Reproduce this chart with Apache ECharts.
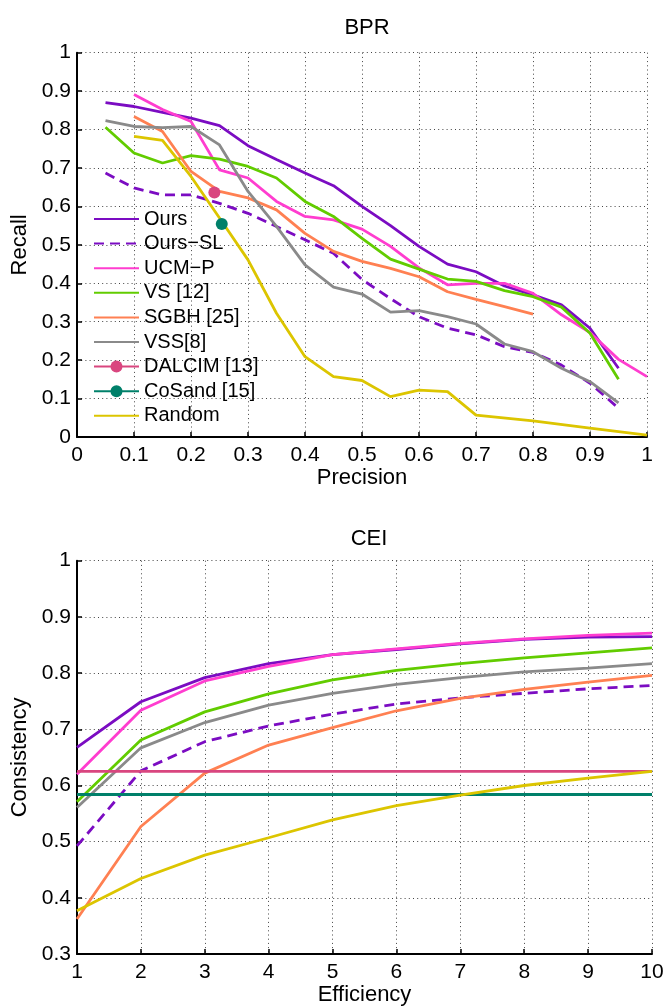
<!DOCTYPE html>
<html><head><meta charset="utf-8">
<script src="https://cdn.jsdelivr.net/npm/echarts@6/dist/echarts.min.js"></script>
<style>html,body{margin:0;padding:0;background:#fff}#c{width:667px;height:1007px}</style>
</head><body><div id="c"></div>
<script>
// ---- BPR (top) ----
const precisionA = [0.05,0.1,0.15,0.2,0.25,0.3,0.35,0.4,0.45,0.5,0.55,0.6,0.65,0.7,0.75,0.8,0.85,0.9,0.95];
const precisionB = [0.1,0.15,0.2,0.25,0.3,0.35,0.4,0.45,0.5,0.55,0.6,0.65,0.7,0.75,0.8,0.85,0.9,0.95,1.0];
const precisionC = [0.1,0.15,0.2,0.25,0.3,0.35,0.4,0.45,0.5,0.55,0.6,0.65,0.7,0.75,0.8];
const precisionR = [0.1,0.15,0.2,0.25,0.3,0.35,0.4,0.45,0.5,0.55,0.6,0.65,0.7,0.8,0.9,1.0];
const recallOurs   = [0.87,0.86,0.845,0.83,0.81,0.758,0.722,0.687,0.654,0.60,0.55,0.496,0.45,0.43,0.393,0.37,0.344,0.283,0.179];
const recallOursSL = [0.687,0.648,0.63,0.63,0.608,0.582,0.548,0.513,0.478,0.41,0.36,0.313,0.283,0.266,0.235,0.22,0.187,0.14,0.075];
const recallUCMP   = [0.891,0.852,0.821,0.695,0.674,0.613,0.574,0.565,0.541,0.496,0.44,0.396,0.40,0.40,0.374,0.318,0.272,0.202,0.157];
const recallVS     = [0.806,0.739,0.713,0.732,0.723,0.704,0.674,0.613,0.574,0.517,0.463,0.437,0.411,0.405,0.381,0.365,0.338,0.27,0.15];
const recallSGBH   = [0.834,0.795,0.691,0.639,0.622,0.591,0.53,0.483,0.457,0.439,0.417,0.378,0.358,0.339,0.32];
const recallVSS    = [0.823,0.808,0.805,0.808,0.76,0.639,0.548,0.448,0.39,0.372,0.325,0.329,0.313,0.294,0.242,0.222,0.179,0.144,0.089];
const recallRandom = [0.782,0.772,0.678,0.57,0.461,0.322,0.209,0.157,0.147,0.105,0.122,0.118,0.057,0.042,0.023,0.005];
const pointDALCIM = [0.241,0.636];
const pointCoSand = [0.254,0.554];

// ---- CEI (bottom) ----
const efficiency = [1,2,3,4,5,6,7,8,9,10];
const consOurs   = [0.668,0.749,0.792,0.817,0.833,0.842,0.852,0.86,0.864,0.865];
const consOursSL = [0.4925,0.626,0.678,0.706,0.727,0.745,0.756,0.764,0.772,0.778];
const consUCMP   = [0.62,0.734,0.786,0.812,0.833,0.843,0.853,0.861,0.867,0.871];
const consVS     = [0.571,0.681,0.731,0.763,0.788,0.805,0.817,0.827,0.836,0.845];
const consSGBH   = [0.3625,0.527,0.622,0.672,0.703,0.733,0.755,0.771,0.784,0.796];
const consVSS    = [0.561,0.667,0.712,0.743,0.764,0.78,0.792,0.802,0.809,0.817];
const consDALCIM = [0.625,0.625,0.625,0.625,0.625,0.625,0.625,0.625,0.625,0.625];
const consCoSand = [0.584,0.584,0.584,0.584,0.584,0.584,0.584,0.584,0.584,0.584];
const consRandom = [0.377,0.4346,0.476,0.507,0.539,0.564,0.583,0.6,0.613,0.625];

const names = ['Ours','Ours\u2212SL','UCM\u2212P','VS [12]','SGBH [25]','VSS[8]','DALCIM [13]','CoSand [15]','Random'];
const withMarker = {'DALCIM [13]':true, 'CoSand [15]':true};
const colors = {
  ours:'#7B0CC2', ucmp:'#FF3DCF', vs:'#62CC00', sgbh:'#FF8052', vss:'#8A8A8A',
  dalcim:'#D9467F', cosand:'#00806A', random:'#DCC500'
};

const zip = (xs, ys) => xs.map((x,i)=>[x, ys[i]]);
const FONT = 'Liberation Sans, Arial, Helvetica, sans-serif';

function lineSeries(name, xs, ys, color, gi, dashed) {
  return {
    type:'line', name, xAxisIndex:gi, yAxisIndex:gi,
    data: zip(xs, ys), symbol:'none', showSymbol:false, silent:true,
    lineStyle:{color, width:2.8, type: dashed ? [10,6] : 'solid'},
    itemStyle:{color}
  };
}
function pointSeries(name, pt, color) {
  return {
    type:'line', name, xAxisIndex:0, yAxisIndex:0,
    data:[pt], symbol:'circle', symbolSize:12, showSymbol:true,
    lineStyle:{color, width:1.5}, itemStyle:{color}
  };
}

const axisCommon = {
  axisLine:{show:true, onZero:false, lineStyle:{color:'#000', width:2}},
  axisTick:{show:true, inside:true, length:5, lineStyle:{color:'#000', width:1.5}},
  splitLine:{show:true, lineStyle:{color:'#444', width:1, type:[1,3.2]}},
  axisLabel:{color:'#000', fontSize:21, fontFamily:FONT},
  nameTextStyle:{color:'#000', fontSize:22, fontFamily:FONT},
  nameLocation:'middle'
};

const option = {
  animation:false,
  backgroundColor:'#fff',
  textStyle:{fontFamily:FONT},
  title:[
    {text:'BPR', left:362, top:12, textAlign:'center', textStyle:{fontSize:22, fontWeight:'normal', color:'#000', fontFamily:FONT}},
    {text:'CEI', left:364, top:523, textAlign:'center', textStyle:{fontSize:22, fontWeight:'normal', color:'#000', fontFamily:FONT}}
  ],
  grid:[
    {left:77, right:20, top:52.7, bottom:570, containLabel:false},
    {left:77, right:15, top:560.7, bottom:51, containLabel:false}
  ],
  xAxis:[
    Object.assign({}, axisCommon, {type:'value', gridIndex:0, min:0, max:1, interval:0.1, name:'Precision', nameGap:30,
      axisLabel:Object.assign({}, axisCommon.axisLabel, {margin:8})}),
    Object.assign({}, axisCommon, {type:'value', gridIndex:1, min:1, max:10, interval:1, name:'Efficiency', nameGap:27,
      axisLabel:Object.assign({}, axisCommon.axisLabel, {margin:8})})
  ],
  yAxis:[
    Object.assign({}, axisCommon, {type:'value', gridIndex:0, min:0, max:1, interval:0.1, name:'Recall', nameGap:46,
      axisLabel:Object.assign({}, axisCommon.axisLabel, {margin:6})}),
    Object.assign({}, axisCommon, {type:'value', gridIndex:1, min:0.3, max:1, interval:0.1, name:'Consistency', nameGap:46,
      axisLabel:Object.assign({}, axisCommon.axisLabel, {margin:6})})
  ],
  legend:{
    data: names.map(n => withMarker[n] ? {name:n} : {name:n, itemStyle:{opacity:0, borderWidth:0}}),
    orient:'vertical', left:93, top:209, padding:0,
    itemWidth:45, itemHeight:15, itemGap:4.6, selectedMode:false,
    textStyle:{fontSize:20, color:'#000', fontFamily:FONT, lineHeight:20, padding:[0,0,0,0]}
  },
  series:[
    lineSeries(names[0], precisionA, recallOurs, colors.ours, 0, false),
    lineSeries(names[1], precisionA, recallOursSL, colors.ours, 0, true),
    lineSeries(names[2], precisionB, recallUCMP, colors.ucmp, 0, false),
    lineSeries(names[3], precisionA, recallVS, colors.vs, 0, false),
    lineSeries(names[4], precisionC, recallSGBH, colors.sgbh, 0, false),
    lineSeries(names[5], precisionA, recallVSS, colors.vss, 0, false),
    pointSeries(names[6], pointDALCIM, colors.dalcim),
    pointSeries(names[7], pointCoSand, colors.cosand),
    lineSeries(names[8], precisionR, recallRandom, colors.random, 0, false),

    lineSeries(names[0], efficiency, consOurs, colors.ours, 1, false),
    lineSeries(names[1], efficiency, consOursSL, colors.ours, 1, true),
    lineSeries(names[2], efficiency, consUCMP, colors.ucmp, 1, false),
    lineSeries(names[3], efficiency, consVS, colors.vs, 1, false),
    lineSeries(names[4], efficiency, consSGBH, colors.sgbh, 1, false),
    lineSeries(names[5], efficiency, consVSS, colors.vss, 1, false),
    lineSeries(names[6], efficiency, consDALCIM, colors.dalcim, 1, false),
    lineSeries(names[7], efficiency, consCoSand, colors.cosand, 1, false),
    lineSeries(names[8], efficiency, consRandom, colors.random, 1, false)
  ]
};
const chart = echarts.init(document.getElementById('c'), null, {renderer:'canvas'});
chart.setOption(option);
</script>
</body></html>
